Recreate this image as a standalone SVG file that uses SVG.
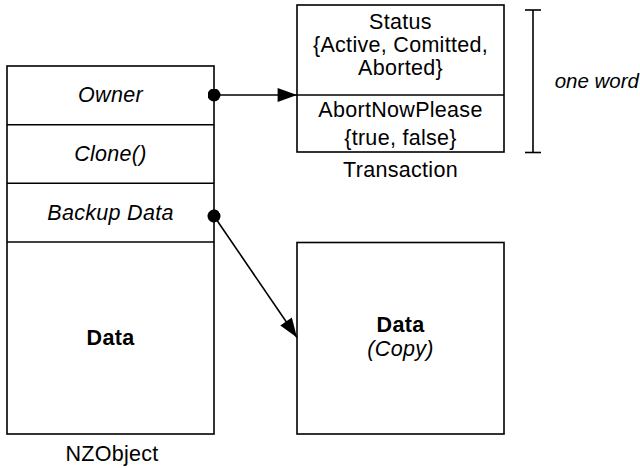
<svg xmlns="http://www.w3.org/2000/svg" width="640" height="468" viewBox="0 0 640 468">
<defs>
<marker id="arrow" markerUnits="userSpaceOnUse" markerWidth="20" markerHeight="14" viewBox="0 0 18 13" refX="18" refY="6.5" orient="auto">
<path d="M0,0 L18,6.5 L0,13 Z" fill="#000"/>
</marker>
<marker id="dot" markerUnits="userSpaceOnUse" markerWidth="13" markerHeight="13" viewBox="0 0 12 12" refX="6" refY="6" orient="auto">
<circle cx="6" cy="6" r="6" fill="#000"/>
</marker>
</defs>
<style>
.box{fill:#fff;stroke:#000;stroke-width:1.6}
.div{stroke:#000;stroke-width:1.6}
.t{font-family:"Liberation Sans",Arial,Helvetica,sans-serif;font-size:21.5px;fill:#000;text-anchor:middle;letter-spacing:0.3px}
.i{font-style:italic}
.b{font-weight:bold}
.conn{stroke:#000;stroke-width:1.6;fill:none;marker-start:url(#dot);marker-end:url(#arrow)}
</style>
<rect width="640" height="468" fill="#fff"/>
<g id="nzobject">
<rect class="box" x="7" y="66" width="207" height="368"/>
<line class="div" x1="7" y1="124.7" x2="214" y2="124.7"/>
<line class="div" x1="7" y1="183.3" x2="214" y2="183.3"/>
<line class="div" x1="7" y1="242" x2="214" y2="242"/>
<text class="t i" x="110.5" y="102">Owner</text>
<text class="t i" x="110.5" y="161">Clone()</text>
<text class="t i" x="110.5" y="220">Backup Data</text>
<text class="t b" x="110.5" y="345">Data</text>
<text class="t" x="112" y="461">NZObject</text>
</g>
<g id="transaction">
<rect class="box" x="297" y="5" width="207" height="147"/>
<line class="div" x1="297" y1="95" x2="504" y2="95"/>
<text class="t" x="400.5" y="29">Status</text>
<text class="t" x="400.5" y="52">{Active, Comitted,</text>
<text class="t" x="400.5" y="75">Aborted}</text>
<text class="t" x="400.5" y="117">AbortNowPlease</text>
<text class="t" x="400.5" y="145">{true, false}</text>
<text class="t" x="400.5" y="177">Transaction</text>
</g>
<g id="oneword">
<line class="div" x1="533" y1="10" x2="533" y2="152.5"/>
<line class="div" x1="525" y1="10" x2="541" y2="10"/>
<line class="div" x1="525" y1="152.5" x2="541" y2="152.5"/>
<text class="t i" x="639" y="88" style="text-anchor:end;font-size:20.5px;letter-spacing:0">one word</text>
</g>
<g id="datacopy">
<rect class="box" x="297" y="242.5" width="207" height="191.5"/>
<text class="t b" x="400.5" y="332">Data</text>
<text class="t i" x="400.5" y="356">(Copy)</text>
</g>
<g id="connectors">
<line class="conn" x1="214" y1="95" x2="297" y2="95"/>
<line class="conn" x1="214" y1="216" x2="297" y2="337.5"/>
</g>
</svg>
